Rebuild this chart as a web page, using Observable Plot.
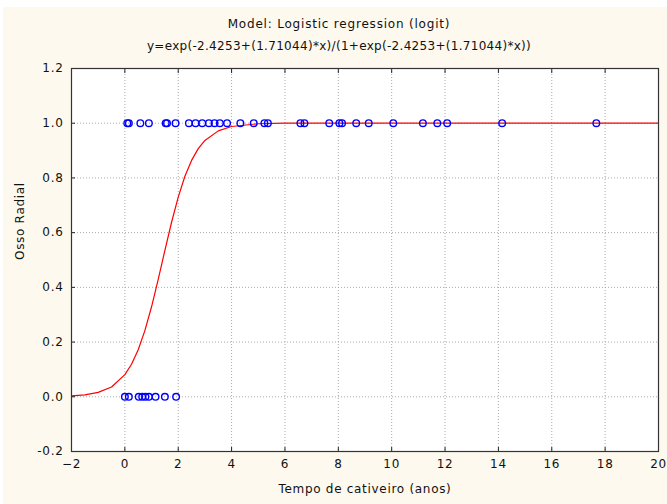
<!DOCTYPE html>
<html>
<head>
<meta charset="utf-8">
<script src="https://cdn.jsdelivr.net/npm/d3@7"></script>
<script src="https://cdn.jsdelivr.net/npm/@observablehq/plot@0.6"></script>
<style>
  html, body { margin: 0; padding: 0; background: #ffffff; width: 667px; height: 504px; overflow: hidden; }
  #panel { position: absolute; left: 3px; top: 7px; width: 664px; height: 497px; background: #fef9ee;
           font-family: "DejaVu Sans", sans-serif; color: #111; }
  .t { position: absolute; left: 0; width: 672px; text-align: center; font-size: 12px; letter-spacing: 0.8px; }
  #title { top: 10px; }
  #subtitle { top: 32px; letter-spacing: 0.3px; }
  #chart { position: absolute; left: 0; top: 50px; }
  #chart svg { background: transparent; }
  #chart svg text { letter-spacing: 0.7px; }
</style>
</head>
<body>
<div id="panel">
  <div class="t" id="title">Model: Logistic regression (logit)</div>
  <div class="t" id="subtitle">y=exp(-2.4253+(1.71044)*x)/(1+exp(-2.4253+(1.71044)*x))</div>
  <div id="chart"></div>
</div>
<script>
// Observed cases (Osso Radial = 1)
const onesX = [0.09, 0.15, 0.58, 0.90, 1.53, 1.58, 1.90, 2.40, 2.65, 2.90, 3.15, 3.36, 3.56, 3.83,
               4.33, 4.83, 5.23, 5.36, 6.58, 6.73, 7.66, 8.04, 8.14, 8.67, 9.14, 10.06, 11.17,
               11.71, 12.08, 14.14, 17.67];
// Observed cases (Osso Radial = 0)
const zerosX = [0.0, 0.15, 0.52, 0.65, 0.77, 0.90, 1.15, 1.50, 1.92];
// Fitted logistic curve
const curveX = [-2, -1.5, -1, -0.5, 0, 0.25, 0.5, 0.75, 1, 1.25, 1.5, 1.75, 2, 2.25, 2.5, 2.75, 3, 3.5, 4, 5, 6, 8, 10, 15, 20];
const curveY = [0.003, 0.007, 0.016, 0.036, 0.081, 0.119, 0.172, 0.242, 0.329, 0.429, 0.535, 0.638, 0.730, 0.806,
                0.864, 0.907, 0.937, 0.972, 0.988, 0.998, 1.0, 1.0, 1.0, 1.0, 1.0];
const xTicks = [-2, 0, 2, 4, 6, 8, 10, 12, 14, 16, 18, 20];
const yTicks = [-0.2, 0, 0.2, 0.4, 0.6, 0.8, 1.0, 1.2];

const points = [
  ...onesX.map(x => ({x, y: 1})),
  ...zerosX.map(x => ({x, y: 0}))
];
const curve = curveX.map((x, i) => ({x, y: curveY[i]}));

const fmtY = d => d.toFixed(1);

const plot = Plot.plot({
  width: 664,
  height: 447,
  marginLeft: 68,
  marginRight: 9,
  marginTop: 11,
  marginBottom: 53,
  style: { fontFamily: "DejaVu Sans, sans-serif", fontSize: "12px", background: "transparent", color: "#111" },
  x: { domain: [-2, 20], ticks: xTicks },
  y: { domain: [-0.2, 1.2], ticks: yTicks },
  marks: [
    Plot.frame({ fill: "white", stroke: null }),
    Plot.gridX(xTicks.slice(1, -1), { stroke: "#aaa", strokeOpacity: 1, strokeDasharray: "1,2" }),
    Plot.gridY(yTicks.slice(1, -1), { stroke: "#aaa", strokeOpacity: 1, strokeDasharray: "1,2" }),
    Plot.line(curve, { x: "x", y: "y", stroke: "#ff0000", strokeWidth: 1.2 }),
    Plot.dot(points, { x: "x", y: "y", r: 3.3, stroke: "#0000ff", strokeWidth: 1.4, fill: "none" }),
    Plot.axisX(xTicks, { anchor: "bottom", tickSize: -4, tickPadding: 12, stroke: "#222", label: null, fontSize: 12 }),
    Plot.axisX(xTicks, { anchor: "top", tickSize: -4, text: null, stroke: "#222", label: null }),
    Plot.axisY(yTicks, { anchor: "left", tickSize: -4, tickPadding: 12, tickFormat: fmtY, stroke: "#222", label: null, fontSize: 12 }),
    Plot.text(["Tempo de cativeiro (anos)"], { frameAnchor: "bottom", dy: 41, fontSize: 12, fill: "#111" }),
    Plot.text(["Osso Radial"], { frameAnchor: "left", dx: -51, rotate: -90, fontSize: 12, fill: "#111" }),
    Plot.frame({ stroke: "#333", strokeWidth: 1.2 })
  ]
});
document.getElementById("chart").appendChild(plot);
</script>
</body>
</html>
